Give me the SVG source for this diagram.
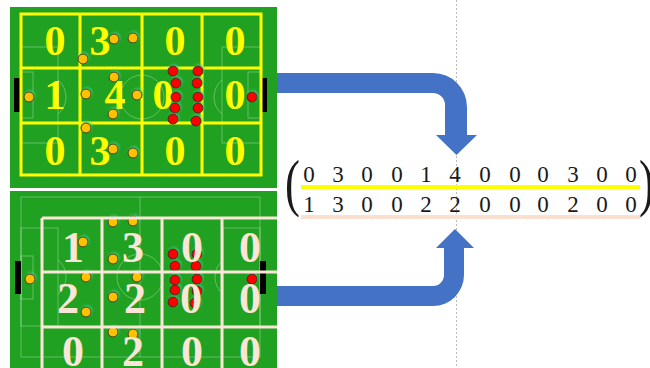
<svg xmlns="http://www.w3.org/2000/svg" width="650" height="368" viewBox="0 0 650 368">
  <style>
    .field { fill: #21A121; }
    .pitch { fill: none; stroke: #ffffff; stroke-opacity: 0.3; stroke-width: 1; }
    .ygrid { fill: none; stroke: #FFFF00; stroke-width: 3; }
    .cgrid { fill: none; stroke: #FBE5D6; stroke-width: 3; }
    .goal { fill: #000000; }
    .ydig { font-family: "Liberation Serif", "Times New Roman", serif; font-weight: bold; font-size: 42px; fill: #FFFF00; text-anchor: middle; }
    .cdig { font-family: "Liberation Serif", "Times New Roman", serif; font-weight: bold; font-size: 44px; fill: #FBE5D6; text-anchor: middle; }
    .pa { fill: #FFC000; stroke: #3a3a1a; stroke-width: 1; }
    .pb { fill: #FF0000; stroke: #3a1a1a; stroke-width: 1; }
    .players { filter: url(#halo); }
    .arrow { fill: #4472C4; }
    .guide { stroke: #bbbbbb; stroke-width: 1; stroke-dasharray: 2 2; }
    .num { font-family: "Liberation Serif", "Times New Roman", serif; font-size: 23px; fill: #1a1a1a; text-anchor: middle; }
    .paren { font-family: "Liberation Serif", "Times New Roman", serif; font-size: 64px; fill: #1a1a1a; }
  </style>
  <defs>
    <clipPath id="clipB"><rect x="10" y="191" width="267" height="177"/></clipPath>
    <!-- soft cyan-green glow under the player markers -->
    <filter id="halo" x="-50%" y="-50%" width="200%" height="200%">
      <feDropShadow dx="1" dy="-1.5" stdDeviation="1" flood-color="#3fd08a" flood-opacity="0.7"/>
    </filter>
  </defs>

  <rect width="650" height="368" fill="#ffffff"/>

  <!-- guide line -->
  <line class="guide" x1="456.5" y1="0" x2="456.5" y2="368"/>

  <!-- top pitch: yellow zone grid -->
  <g id="field-top">
    <rect class="field" x="10" y="7" width="267" height="181"/>
    <g class="pitch">
      <rect x="21" y="47" width="37" height="96"/>
      <rect x="21" y="72" width="12" height="46"/>
      <path d="M58,80 A22,22 0 0 1 58,114"/>
      <rect x="222" y="47" width="39" height="96"/>
      <rect x="248" y="72" width="13" height="46"/>
      <path d="M222,80 A22,22 0 0 0 222,114"/>
      <circle cx="142" cy="97" r="22"/>
    </g>
    <rect class="goal" x="14" y="78" width="6" height="34"/>
    <rect class="goal" x="262" y="78" width="5" height="34"/>
    <g class="ygrid">
      <rect x="21" y="14" width="240" height="161"/>
      <line x1="80" y1="14" x2="80" y2="175"/>
      <line x1="142" y1="14" x2="142" y2="175"/>
      <line x1="202" y1="14" x2="202" y2="175"/>
      <line x1="21" y1="68" x2="261" y2="68"/>
      <line x1="21" y1="123" x2="261" y2="123"/>
    </g>
    <g>
      <text class="ydig" x="55" y="55">0</text>
      <text class="ydig" x="100" y="55">3</text>
      <text class="ydig" x="175" y="55">0</text>
      <text class="ydig" x="235" y="55">0</text>
      <text class="ydig" x="55" y="109">1</text>
      <text class="ydig" x="115" y="109">4</text>
      <text class="ydig" x="163" y="109">0</text>
      <text class="ydig" x="235" y="109">0</text>
      <text class="ydig" x="55" y="165">0</text>
      <text class="ydig" x="100" y="165">3</text>
      <text class="ydig" x="175" y="165">0</text>
      <text class="ydig" x="235" y="165">0</text>
    </g>
    <g class="players">
      <circle class="pa" cx="29" cy="97" r="5"/>
      <circle class="pa" cx="83" cy="59" r="5"/>
      <circle class="pa" cx="114" cy="39" r="5"/>
      <circle class="pa" cx="133" cy="38" r="5"/>
      <circle class="pa" cx="114" cy="77" r="5"/>
      <circle class="pa" cx="86" cy="94" r="5"/>
      <circle class="pa" cx="137" cy="95" r="5"/>
      <circle class="pa" cx="113" cy="114" r="5"/>
      <circle class="pa" cx="86" cy="128" r="5"/>
      <circle class="pa" cx="113" cy="149" r="5"/>
      <circle class="pa" cx="133" cy="153" r="5"/>
      <circle class="pb" cx="173" cy="71" r="5"/>
      <circle class="pb" cx="176" cy="83" r="5"/>
      <circle class="pb" cx="176" cy="97" r="5"/>
      <circle class="pb" cx="175" cy="108" r="5"/>
      <circle class="pb" cx="173" cy="119" r="5"/>
      <circle class="pb" cx="198" cy="71" r="5"/>
      <circle class="pb" cx="197" cy="83" r="5"/>
      <circle class="pb" cx="198" cy="97" r="5"/>
      <circle class="pb" cx="198" cy="108" r="5"/>
      <circle class="pb" cx="196" cy="121" r="5"/>
      <circle class="pb" cx="252" cy="97" r="5"/>
    </g>
  </g>

  <!-- bottom pitch: shifted cream zone grid -->
  <g id="field-bottom">
    <rect class="field" x="10" y="191" width="267" height="177"/>
    <g class="pitch">
      <rect x="21" y="197" width="239" height="160"/>
      <line x1="140" y1="197" x2="140" y2="357"/>
      <circle cx="140" cy="277" r="23"/>
      <rect x="21" y="228" width="37" height="98"/>
      <rect x="21" y="256" width="12" height="43"/>
      <path d="M58,260 A22,22 0 0 1 58,294"/>
      <rect x="223" y="228" width="37" height="98"/>
      <path d="M223,260 A22,22 0 0 0 223,294"/>
    </g>
    <rect class="goal" x="15" y="261" width="6" height="33"/>
    <rect class="goal" x="260" y="261" width="6" height="33"/>
    <g class="players">
      <circle class="pa" cx="30" cy="279" r="5"/>
      <circle class="pa" cx="113" cy="222" r="5"/>
      <circle class="pa" cx="133" cy="221" r="5"/>
      <circle class="pa" cx="83" cy="242" r="5"/>
      <circle class="pa" cx="113" cy="259" r="5"/>
      <circle class="pa" cx="86" cy="277" r="5"/>
      <circle class="pa" cx="137" cy="277" r="5"/>
      <circle class="pa" cx="113" cy="297" r="5"/>
      <circle class="pa" cx="86" cy="312" r="5"/>
      <circle class="pa" cx="113" cy="332" r="5"/>
      <circle class="pa" cx="133" cy="334" r="5"/>
      <circle class="pb" cx="173" cy="254" r="5"/>
      <circle class="pb" cx="197" cy="254" r="5"/>
      <circle class="pb" cx="175" cy="266" r="5"/>
      <circle class="pb" cx="196" cy="266" r="5"/>
      <circle class="pb" cx="175" cy="280" r="5"/>
      <circle class="pb" cx="197" cy="279" r="5"/>
      <circle class="pb" cx="175" cy="290" r="5"/>
      <circle class="pb" cx="197" cy="291" r="5"/>
      <circle class="pb" cx="173" cy="302" r="5"/>
      <circle class="pb" cx="195" cy="303" r="5"/>
      <circle class="pb" cx="252" cy="279" r="5"/>
    </g>
    <g class="cgrid" clip-path="url(#clipB)">
      <line x1="42" y1="218" x2="280" y2="218"/>
      <line x1="42" y1="272" x2="280" y2="272"/>
      <line x1="42" y1="327" x2="280" y2="327"/>
      <line x1="42" y1="218" x2="42" y2="370"/>
      <line x1="102" y1="218" x2="102" y2="370"/>
      <line x1="162" y1="218" x2="162" y2="370"/>
      <line x1="222" y1="218" x2="222" y2="370"/>
    </g>
    <g clip-path="url(#clipB)">
      <text class="cdig" x="73" y="262">1</text>
      <text class="cdig" x="133" y="262">3</text>
      <text class="cdig" x="192" y="262">0</text>
      <text class="cdig" x="250" y="262">0</text>
      <text class="cdig" x="68" y="313">2</text>
      <text class="cdig" x="135" y="313">2</text>
      <text class="cdig" x="191" y="313">0</text>
      <text class="cdig" x="250" y="313">0</text>
      <text class="cdig" x="73" y="366">0</text>
      <text class="cdig" x="133" y="366">2</text>
      <text class="cdig" x="192" y="366">0</text>
      <text class="cdig" x="250" y="366">0</text>
    </g>
  </g>

  <!-- connectors -->
  <g id="connectors">
    <path class="arrow" d="M277,73 H433 A34,34 0 0 1 467,107 V135 H477 L456.5,155 L436,135 H445 V105 A12,12 0 0 0 433,93 H277 Z"/>
    <path class="arrow" d="M277,306 H433 A31,31 0 0 0 464,275 V248 H474 L455,229 L436,248 H444 V275 A11,11 0 0 1 433,286 H277 Z"/>
  </g>

  <!-- resulting 2x12 matrix -->
  <g id="matrix">
    <rect x="301" y="185" width="339" height="4" fill="#FFFF00"/>
    <rect x="301" y="215" width="339" height="4" fill="#FBE0D0"/>
    <text class="paren" transform="translate(285,204) scale(0.7,1)">(</text>
    <text class="paren" transform="translate(639,204) scale(0.7,1)">)</text>
    <g class="num">
      <text x="309" y="182">0</text>
      <text x="338" y="182">3</text>
      <text x="367" y="182">0</text>
      <text x="397" y="182">0</text>
      <text x="426" y="182">1</text>
      <text x="455" y="182">4</text>
      <text x="485" y="182">0</text>
      <text x="515" y="182">0</text>
      <text x="543" y="182">0</text>
      <text x="573" y="182">3</text>
      <text x="602" y="182">0</text>
      <text x="631" y="182">0</text>
      <text x="309" y="212">1</text>
      <text x="338" y="212">3</text>
      <text x="367" y="212">0</text>
      <text x="397" y="212">0</text>
      <text x="426" y="212">2</text>
      <text x="455" y="212">2</text>
      <text x="485" y="212">0</text>
      <text x="515" y="212">0</text>
      <text x="543" y="212">0</text>
      <text x="573" y="212">2</text>
      <text x="602" y="212">0</text>
      <text x="631" y="212">0</text>
    </g>
  </g>
</svg>
